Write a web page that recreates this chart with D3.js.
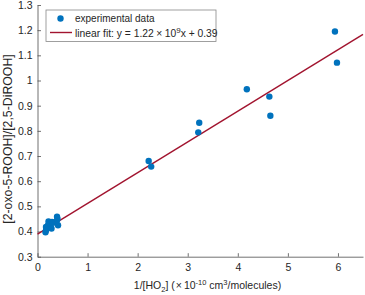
<!DOCTYPE html>
<html><head><meta charset="utf-8">
<script src="https://cdn.jsdelivr.net/npm/d3@7"></script>
<style>body{margin:0;background:#fff}text{font-family:"Liberation Sans",Arial,sans-serif}</style>
</head><body><svg id="c" width="365" height="295"></svg>
<script>
const xData = [0.16,0.17,0.17,0.21,0.22,0.25,0.28,0.29,0.31,0.38,0.39,0.40,0.41,2.22,2.27,3.21,3.23,4.18,4.63,4.65,5.94,5.98];
const yData = [0.397,0.405,0.418,0.425,0.44,0.43,0.412,0.438,0.435,0.44,0.459,0.45,0.425,0.680,0.658,0.794,0.832,0.965,0.936,0.860,1.195,1.071];
const fitSlope = 0.122, fitIntercept = 0.39;
const xTicks = [0,1,2,3,4,5,6];
const yTicks = [0.3,0.4,0.5,0.6,0.7,0.8,0.9,1,1.1,1.2,1.3];
const xDomain = [0,6.5], yDomain = [0.3,1.3];

const svg = d3.select("#c");
const L=37.5, R=363, T=5, B=256.7;
const x = d3.scaleLinear().domain(xDomain).range([L,R]);
const y = d3.scaleLinear().domain(yDomain).range([B,T]);
const axCol="#4d4d4d", txtCol="#262626";

const xa = svg.append("g").attr("transform",`translate(0,${B})`)
  .call(d3.axisBottom(x).tickValues(xTicks).tickSizeInner(-3.5).tickSizeOuter(0).tickPadding(7).tickFormat(d3.format("")));
const ya = svg.append("g").attr("transform",`translate(${L},0)`)
  .call(d3.axisLeft(y).tickValues(yTicks).tickSizeInner(-3.5).tickSizeOuter(0).tickPadding(5).tickFormat(d=>String(+d.toFixed(1))));
[xa,ya].forEach(a=>{a.select(".domain").attr("stroke",axCol).attr("stroke-width",0.8);
  a.selectAll(".tick line").attr("stroke",axCol).attr("stroke-width",0.8);
  a.selectAll("text").attr("fill",txtCol).style("font-size","10.5px");});

// fit line
svg.append("line").attr("x1",x(xDomain[0])).attr("y1",y(fitIntercept+fitSlope*xDomain[0]))
  .attr("x2",x(xDomain[1])).attr("y2",y(fitIntercept+fitSlope*xDomain[1]))
  .attr("stroke","#A2142F").attr("stroke-width",1.4);

// points
svg.append("g").selectAll("circle").data(xData.map((d,i)=>[d,yData[i]])).join("circle")
  .attr("cx",d=>x(d[0])).attr("cy",d=>y(d[1])).attr("r",3.2).attr("fill","#0072BD");

// legend
const lg = svg.append("g");
lg.append("rect").attr("x",46).attr("y",10).attr("width",170).attr("height",31.5)
  .attr("fill","#fff").attr("stroke","#888").attr("stroke-width",0.8);
lg.append("circle").attr("cx",60.5).attr("cy",18.5).attr("r",3.2).attr("fill","#0072BD");
lg.append("text").attr("x",75).attr("y",22).attr("fill",txtCol).style("font-size","10px").text("experimental data");
lg.append("line").attr("x1",50).attr("x2",72).attr("y1",32.5).attr("y2",32.5).attr("stroke","#A2142F").attr("stroke-width",1.4);
const t2 = lg.append("text").attr("x",75).attr("y",37).attr("fill",txtCol).style("font-size","10.3px");
t2.append("tspan").text("linear fit: y = 1.22");
t2.append("tspan").attr("dx",2.5).text("\u00D7");
t2.append("tspan").attr("dx",2.5).text("10");
t2.append("tspan").attr("dy",-4.5).style("font-size","8px").text("9");
t2.append("tspan").attr("dy",4.5).text("x + 0.39");

// x label
const xl = svg.append("text").attr("x",207.5).attr("y",289).attr("text-anchor","middle").attr("fill",txtCol).style("font-size","10.5px");
xl.append("tspan").text("1/[HO");
xl.append("tspan").attr("dy",3).style("font-size","7.5px").text("2");
xl.append("tspan").attr("dy",-3).text("] (");
xl.append("tspan").attr("dx",1).text("\u00D7");
xl.append("tspan").attr("dx",2).text("10");
xl.append("tspan").attr("dy",-4).style("font-size","7.5px").text("-10");
xl.append("tspan").attr("dy",4).text(" cm");
xl.append("tspan").attr("dy",-4).style("font-size","7.5px").text("3");
xl.append("tspan").attr("dy",4).text("/molecules)");

// y label
svg.append("text").attr("transform",`translate(12,139) rotate(-90)`).attr("text-anchor","middle")
  .attr("fill",txtCol).style("font-size","12.3px").text("[2-oxo-5-ROOH]/[2,5-DiROOH]");
</script></body></html>
